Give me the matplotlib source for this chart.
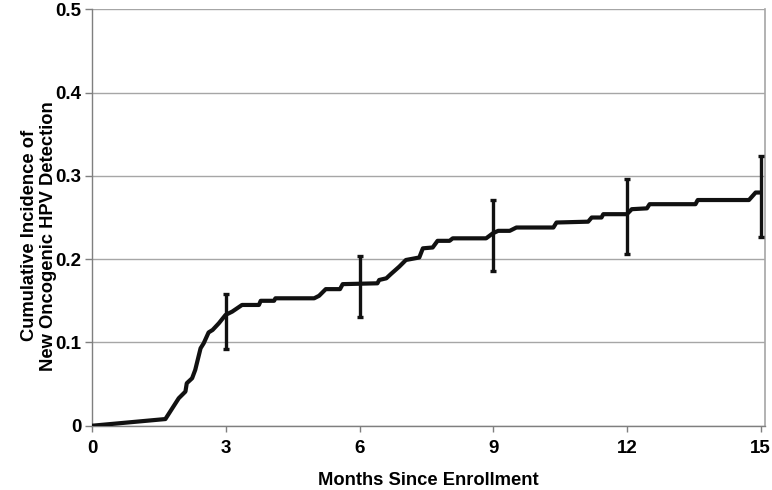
import matplotlib
matplotlib.use("Agg")
import matplotlib.pyplot as plt
import numpy as np

plt.rcParams['font.family'] = ['Liberation Sans', 'DejaVu Sans']
plt.rcParams['font.weight'] = 'bold'

# cumulative incidence curve (months, proportion)
months = [0, 1.64, 1.94, 2.09, 2.12, 2.24, 2.31, 2.43, 2.50, 2.61, 2.70, 2.84,
          2.99, 3.14, 3.36, 3.74, 3.78, 4.08, 4.11, 4.98, 5.09, 5.24, 5.56,
          5.62, 6.40, 6.44, 6.60, 6.70, 6.89, 7.04, 7.34, 7.42, 7.64, 7.75,
          8.02, 8.09, 8.84, 8.99, 9.11, 9.37, 9.52, 10.35, 10.42, 11.13, 11.21,
          11.43, 11.47, 12.00, 12.11, 12.45, 12.51, 13.54, 13.59, 14.74, 14.89,
          15.00]
incidence = [0, 0.008, 0.033, 0.041, 0.051, 0.057, 0.067, 0.093, 0.099, 0.112,
             0.115, 0.123, 0.133, 0.137, 0.145, 0.145, 0.150, 0.150, 0.153,
             0.153, 0.156, 0.164, 0.164, 0.170, 0.171, 0.175, 0.177, 0.182,
             0.191, 0.199, 0.202, 0.213, 0.214, 0.222, 0.222, 0.225, 0.225,
             0.231, 0.234, 0.234, 0.238, 0.238, 0.244, 0.245, 0.250, 0.250,
             0.254, 0.254, 0.260, 0.261, 0.266, 0.266, 0.271, 0.271, 0.280,
             0.280]

# 95% confidence intervals at the follow-up visits
ci_months = [3, 6, 9, 12, 15]
ci_point = [0.133, 0.171, 0.231, 0.254, 0.280]
ci_lower = [0.092, 0.130, 0.186, 0.206, 0.227]
ci_upper = [0.158, 0.204, 0.271, 0.296, 0.324]

x_ticks = [0, 3, 6, 9, 12, 15]
y_ticks = [0, 0.1, 0.2, 0.3, 0.4, 0.5]
y_tick_labels = ["0", "0.1", "0.2", "0.3", "0.4", "0.5"]

fig = plt.figure(figsize=(7.72, 4.9), dpi=100)
ax = fig.add_axes([0.1196, 0.1312, 0.8713, 0.8498])

ax.plot(months, incidence, color="#111111", lw=3.0, solid_joinstyle="round",
        zorder=3)

pt = np.array(ci_point)
yerr = [pt - np.array(ci_lower), np.array(ci_upper) - pt]
ax.errorbar(ci_months, ci_point, yerr=yerr, fmt="none", ecolor="#111111",
            elinewidth=2.4, capsize=2, capthick=2.4, zorder=4)

ax.set_xlim(0, 15.1)
ax.set_ylim(0, 0.5)
ax.set_xticks(x_ticks)
ax.set_yticks(y_ticks)
ax.set_yticklabels(y_tick_labels)

ax.grid(axis="y", color="#a6a6a6", lw=1.0)
ax.set_axisbelow(True)

for side in ["left", "bottom"]:
    ax.spines[side].set_color("#7f7f7f")
    ax.spines[side].set_linewidth(1.0)
ax.spines["right"].set_color("#a6a6a6")
ax.spines["right"].set_linewidth(1.2)
ax.spines["top"].set_visible(False)

ax.tick_params(axis="x", length=4, width=1, color="#7f7f7f", pad=6,
               labelsize=13.5)
ax.tick_params(axis="y", length=5, width=1, color="#7f7f7f", pad=3,
               labelsize=13.5)

ax.set_xlabel("Months Since Enrollment", fontsize=13.2, fontweight="bold",
              labelpad=11)
ax.set_ylabel("Cumulative Incidence of\nNew Oncogenic HPV Detection",
              fontsize=13.2, fontweight="bold", linespacing=1.1)
ax.yaxis.set_label_coords(-0.053, 0.456)

fig.savefig("out.png", dpi=100)
